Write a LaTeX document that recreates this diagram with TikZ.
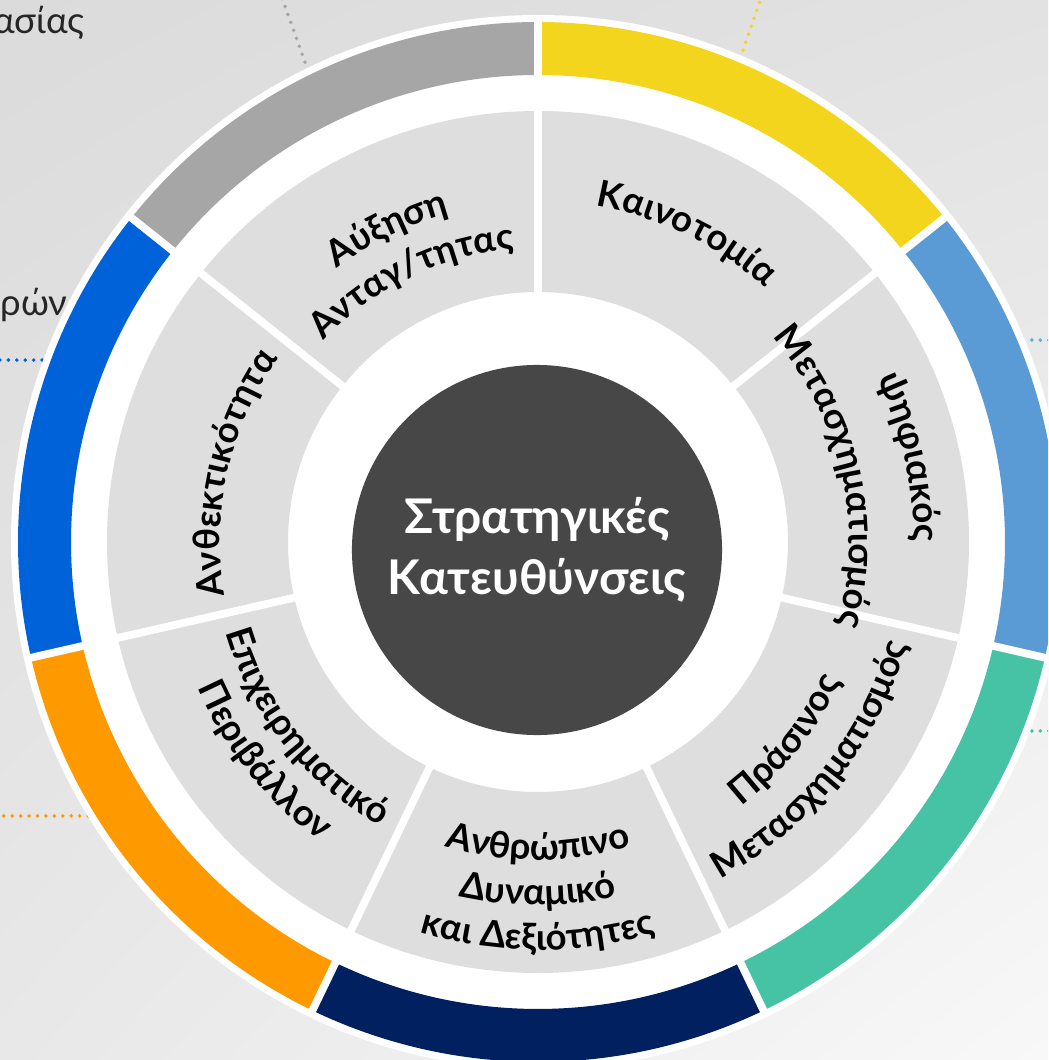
\documentclass[tikz,border=0pt]{standalone}
\usepackage{fontspec}
\setmainfont{Lato}
\usepackage{xcolor}
\definecolor{RingGray}{RGB}{166,166,166}
\definecolor{RingYellow}{RGB}{244,213,30}
\definecolor{RingSky}{RGB}{91,155,213}
\definecolor{RingGreen}{RGB}{69,195,164}
\definecolor{RingNavy}{RGB}{0,32,96}
\definecolor{RingOrange}{RGB}{255,153,0}
\definecolor{RingBlue}{RGB}{0,98,216}
\definecolor{SectorGray}{RGB}{222,222,222}
\definecolor{CoreGray}{RGB}{71,71,71}
\definecolor{LeaderSky}{RGB}{79,179,224}
\definecolor{OuterText}{RGB}{38,38,38}
\definecolor{BackA}{RGB}{219,219,219}
\definecolor{BackB}{RGB}{226,226,226}
\definecolor{BackC}{RGB}{232,232,232}
\definecolor{BackD}{RGB}{248,248,248}
\usepackage{tikz}
\usetikzlibrary{shadings,decorations.text}

\newcommand{\labelfont}{\fontsize{26}{32}\selectfont\bfseries}

% one coloured piece of the outer ring
\newcommand{\ringpart}[3]{%
  \fill[#1] (#2:467) arc[start angle=#2, end angle=#3, radius=467]
    -- (#3:520) arc[start angle=#3, end angle=#2, radius=520] -- cycle;}

% curved text, letters pointing away from the centre
\newcommand{\outlabel}[3]{%
  \path[decorate, decoration={text along path, text align=center,
      text={|\labelfont|#3}}]
    ({#1+45}:#2) arc[start angle={#1+45}, end angle={#1-45}, radius=#2];}

% curved text, letters pointing to the centre
\newcommand{\inlabel}[3]{%
  \path[decorate, decoration={text along path, text align=center,
      text={|\labelfont|#3}}]
    ({#1-45}:#2) arc[start angle={#1-45}, end angle={#1+45}, radius=#2];}

\tikzset{
  gap/.style={draw=white, line width=5.5pt},
  leader/.style={line width=2.8pt, line cap=round, dash pattern=on 0pt off 6pt},
  outside/.style={text=OuterText, inner sep=0pt,
    font=\fontsize{26}{30}\selectfont}
}

\begin{document}
\begin{tikzpicture}[scale=0.025]
            \useasboundingbox (-538,-518) rectangle (510,542);
            \clip (-538,-518) rectangle (510,542);
            \shade[upper left=BackA, upper right=BackB,
                   lower left=BackC, lower right=BackD]
                (-538,-518) rectangle (510,542);

            % texts cut by the frame
            \node[outside, anchor=base east] (work) at (-453,508) {ασίας};
            \node[outside, anchor=base east] (people) at (-470,227) {ρών};

            % leaders
            \coordinate (lgray) at (-233,480);
            \coordinate (lgrayend) at (-256,544);
            \coordinate (lyellow) at (205,492);
            \coordinate (lyellowend) at (223,544);
            \coordinate (lblue) at (-496,182);
            \coordinate (lblueend) at (-540,182);
            \coordinate (lsky) at (494,202);
            \coordinate (lskyend) at (512,202);
            \coordinate (lgreen) at (494,-189);
            \coordinate (lgreenend) at (512,-189);
            \coordinate (lorange) at (-450,-274);
            \coordinate (lorangeend) at (-540,-274);
            \draw[leader, RingGray] (lgray) -- (lgrayend);
            \draw[leader, RingYellow] (lyellow) -- (lyellowend);
            \draw[leader, RingBlue] (lblue) -- (lblueend);
            \draw[leader, LeaderSky] (lsky) -- (lskyend);
            \draw[leader, RingGreen] (lgreen) -- (lgreenend);
            \draw[leader, RingOrange] (lorange) -- (lorangeend);

            \fill[white] (0,0) circle (527);
            \ringpart{RingYellow}{90}{38.57}
            \ringpart{RingSky}{38.57}{-12.86}
            \ringpart{RingGreen}{-12.86}{-64.29}
            \ringpart{RingNavy}{-64.29}{-115.71}
            \ringpart{RingOrange}{-115.71}{-167.14}
            \ringpart{RingBlue}{-167.14}{-218.57}
            \ringpart{RingGray}{141.43}{90}
            \fill[SectorGray, even odd rule] (0,0) circle (431) (0,0) circle (250);
            \foreach \a in {90,38.57,-12.86,-64.29,-115.71,-167.14,141.43} {
              \draw[gap] (\a:245) -- (\a:436);
              \draw[gap] (\a:462) -- (\a:525);
            }

            % sector texts
            \outlabel{115.71}{340}{Αύξηση}
            \outlabel{115.71}{294}{Ανταγ/τητας}
            \outlabel{64.29}{341}{Καινοτομία}
            \outlabel{12.86}{376}{ψηφιακός}
            \outlabel{12.86}{311}{Μετασχηματισμός}
            \inlabel{-38.57}{333}{Πράσινος}
            \inlabel{-38.57}{383}{Μετασχηματισμός}
            \inlabel{-90}{318}{Ανθρώπινο}
            \inlabel{-90}{363}{Δυναμικό}
            \inlabel{-90}{408}{και Δεξιότητες}
            \inlabel{-141.43}{325}{Επιχειρηματικό}
            \inlabel{-141.43}{370}{Περιβάλλον}
            \outlabel{167.14}{318}{Ανθεκτικότητα}

            \node[circle, fill=CoreGray, minimum size=9.25cm, inner sep=0pt,
                  text=white, align=center,
                  font=\fontsize{34}{43}\selectfont\bfseries] (core) at (-1,-8)
                  {Στρατηγικές\\Κατευθύνσεις};
        \end{tikzpicture}
\end{document}
